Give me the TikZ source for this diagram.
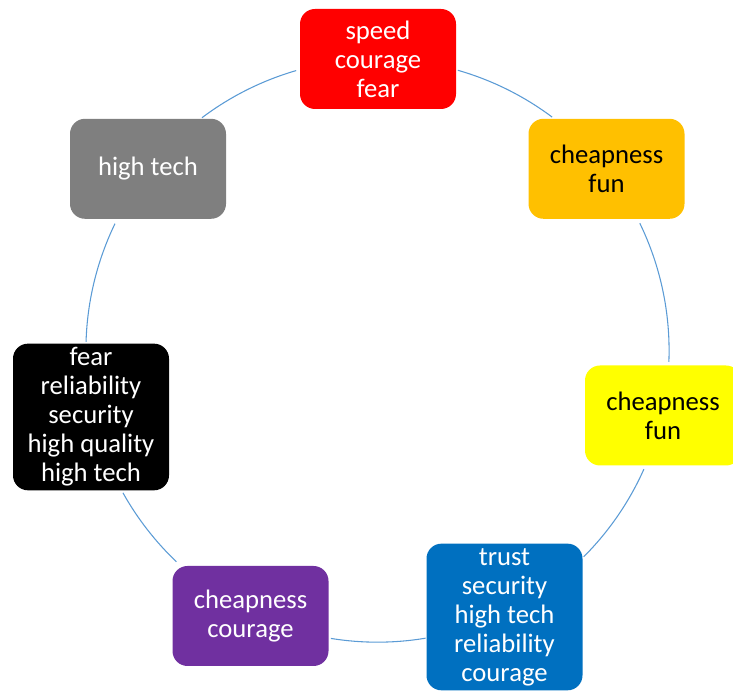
\documentclass[tikz,border=0pt]{standalone}
\usepackage{fontspec}
\setmainfont{Carlito}
\usetikzlibrary{calc}
\definecolor{cred}{HTML}{FF0000}
\definecolor{corange}{HTML}{FFC000}
\definecolor{cyellow}{HTML}{FFFF00}
\definecolor{cblue}{HTML}{0070C0}
\definecolor{cpurple}{HTML}{7030A0}
\definecolor{cgray}{HTML}{7F7F7F}
\definecolor{cline}{HTML}{5B9BD5}
\tikzset{
  cbox/.style={rounded corners=11.25pt, minimum width=117pt, minimum height=75pt,
    inner sep=0pt, align=center, font=\fontsize{20}{21.75}\selectfont},
  tallbox/.style={cbox, minimum height=110pt},
  cyc/.style={draw=cline, line width=0.8pt}
}
\begin{document}
\begin{tikzpicture}[x=0.75pt,y=0.75pt]
\useasboundingbox (0,0) rectangle (733,691);
\clip (0,0) rectangle (733,691);
\coordinate (c) at (377.5,340.4);
\def\R{218.7pt}
% arcs
\draw[cyc] (c) ++(74.0:\R) arc[start angle=74.0, end angle=53.2, radius=\R];
\draw[cyc] (c) ++(25.9:\R) arc[start angle=25.9, end angle=-2.2, radius=\R];
\draw[cyc] (c) ++(-24.0:\R) arc[start angle=-24.0, end angle=-45.0, radius=\R];
\draw[cyc] (c) ++(-80.5:\R) arc[start angle=-80.5, end angle=-99.2, radius=\R];
\draw[cyc] (c) ++(-133.6:\R) arc[start angle=-133.6, end angle=-150.8, radius=\R];
\draw[cyc] (c) ++(178.3:\R) arc[start angle=178.3, end angle=154.2, radius=\R];
\draw[cyc] (c) ++(127.0:\R) arc[start angle=127.0, end angle=106.2, radius=\R];
% boxes
\node[cbox, fill=cred, text=white] (red) at (378,632) {speed\\courage\\fear};
\node[cbox, fill=corange, text=black] (orange) at (606.5,522.2) {cheapness\\fun};
\node[cbox, fill=cyellow, text=black] (yellow) at (663,275.5) {cheapness\\fun};
\node[tallbox, fill=cblue, text=white] (blue) at (504.5,74) {trust\\security\\high tech\\reliability\\courage};
\node[cbox, fill=cpurple, text=white] (purple) at (250.5,75) {cheapness\\courage};
\node[tallbox, fill=black, text=white] (blk) at (91,274) {fear\\reliability\\security\\high quality\\high tech};
\node[cbox, fill=cgray, text=white] (gray) at (148,522.2) {high tech};
\end{tikzpicture}
\end{document}
